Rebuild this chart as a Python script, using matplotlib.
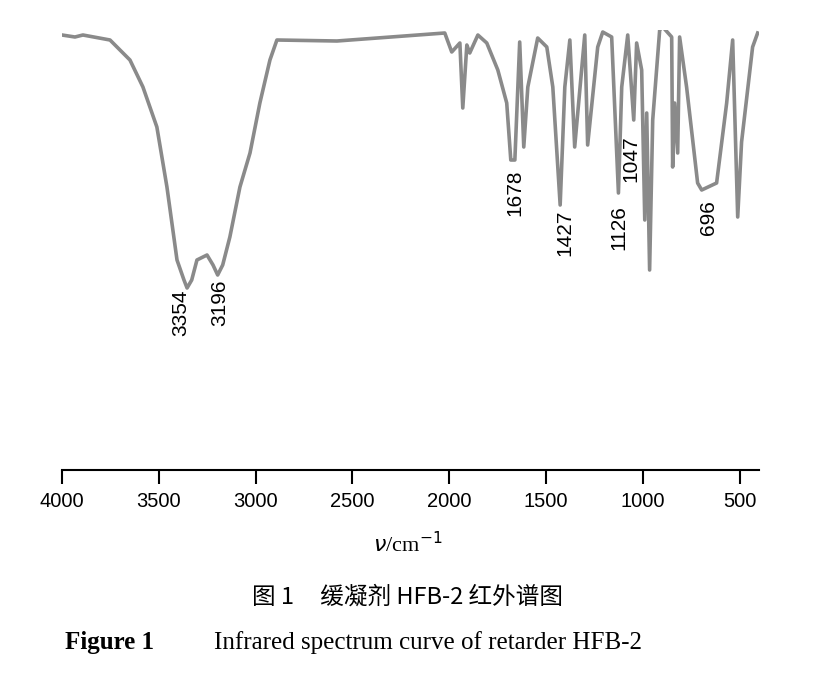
import matplotlib
matplotlib.use("Agg")
import matplotlib.pyplot as plt

wavenumber = [4000, 3933, 3892, 3752, 3649, 3582, 3510, 3458, 3406, 3370, 3354, 3330, 3303, 3251, 3220, 3196, 3170, 3133, 3081,
              3029, 2978, 2926, 2890, 2580, 2023, 1987, 1945, 1930, 1909, 1894, 1852, 1806, 1749, 1703,
              1682, 1661, 1636, 1615, 1594, 1543, 1496, 1465, 1427, 1403, 1377, 1352, 1300, 1285, 1233,
              1207, 1161, 1126, 1109, 1078, 1047, 1032, 1006, 990, 980, 965, 949, 913, 897, 851, 846,
              836, 820, 810, 774, 717, 696, 619, 567, 536, 510, 490, 433, 407]
transmittance = [435, 433, 435, 430, 410, 383, 343, 283, 210, 190, 182, 190, 210, 215, 205, 195, 205, 233, 283,
                 317, 367, 410, 430, 429, 437, 418, 427, 362, 425, 417, 435, 427, 400, 367,
                 310, 310, 428, 323, 383, 432, 423, 383, 265, 383, 430, 323, 435, 325, 423,
                 438, 433, 277, 383, 435, 350, 427, 400, 250, 357, 200, 350, 440, 443, 433, 303,
                 367, 317, 433, 383, 287, 280, 287, 367, 430, 253, 328, 423, 437]
peak_labels = ["3354", "3196", "1678", "1427", "1126", "1047", "696"]
peak_pos = [3385, 3185, 1660, 1405, 1125, 1062, 660]
peak_top = [180, 190, 300, 260, 265, 335, 270]
xticks = [4000, 3500, 3000, 2500, 2000, 1500, 1000, 500]

fig = plt.figure(figsize=(8.16, 6.98), dpi=100)
ax = fig.add_axes([62/816, 1-470/698, 697/816, 440/698])
ax.plot(wavenumber, transmittance, color="#8a8a8a", lw=2.6)
ax.set_xlim(4000, 400)
ax.set_ylim(0, 440)
for s in ["top", "right", "left"]:
    ax.spines[s].set_visible(False)
ax.spines["bottom"].set_linewidth(1.5)
ax.set_yticks([])
ax.set_xticks(xticks)
ax.set_xticklabels([str(t) for t in xticks], fontsize=14.5, fontfamily="Liberation Sans")
ax.tick_params(axis="x", direction="out", length=10, width=1.5, pad=6)
for lab, x, y in zip(peak_labels, peak_pos, peak_top):
    ax.text(x, y, lab, rotation=90, ha="center", va="top", fontsize=15, fontfamily="Liberation Sans")

fig.text(0.5, 1-545/698, r"$\nu$/cm$^{-1}$", ha="center", va="center", fontsize=16, fontfamily="Liberation Serif")
fig.text(0.5, 1-597/698, "图 1     缓凝剂 HFB-2 红外谱图", ha="center", va="center", fontsize=17,
         fontfamily="Noto Sans CJK SC")
fig.text(0.08, 1-643/698, "Figure 1", ha="left", va="center", fontsize=18, fontweight="bold",
         fontfamily="Liberation Serif")
fig.text(0.262, 1-643/698, "Infrared spectrum curve of retarder HFB-2", ha="left", va="center", fontsize=18,
         fontfamily="Liberation Serif")
fig.savefig("out.png", dpi=100)
